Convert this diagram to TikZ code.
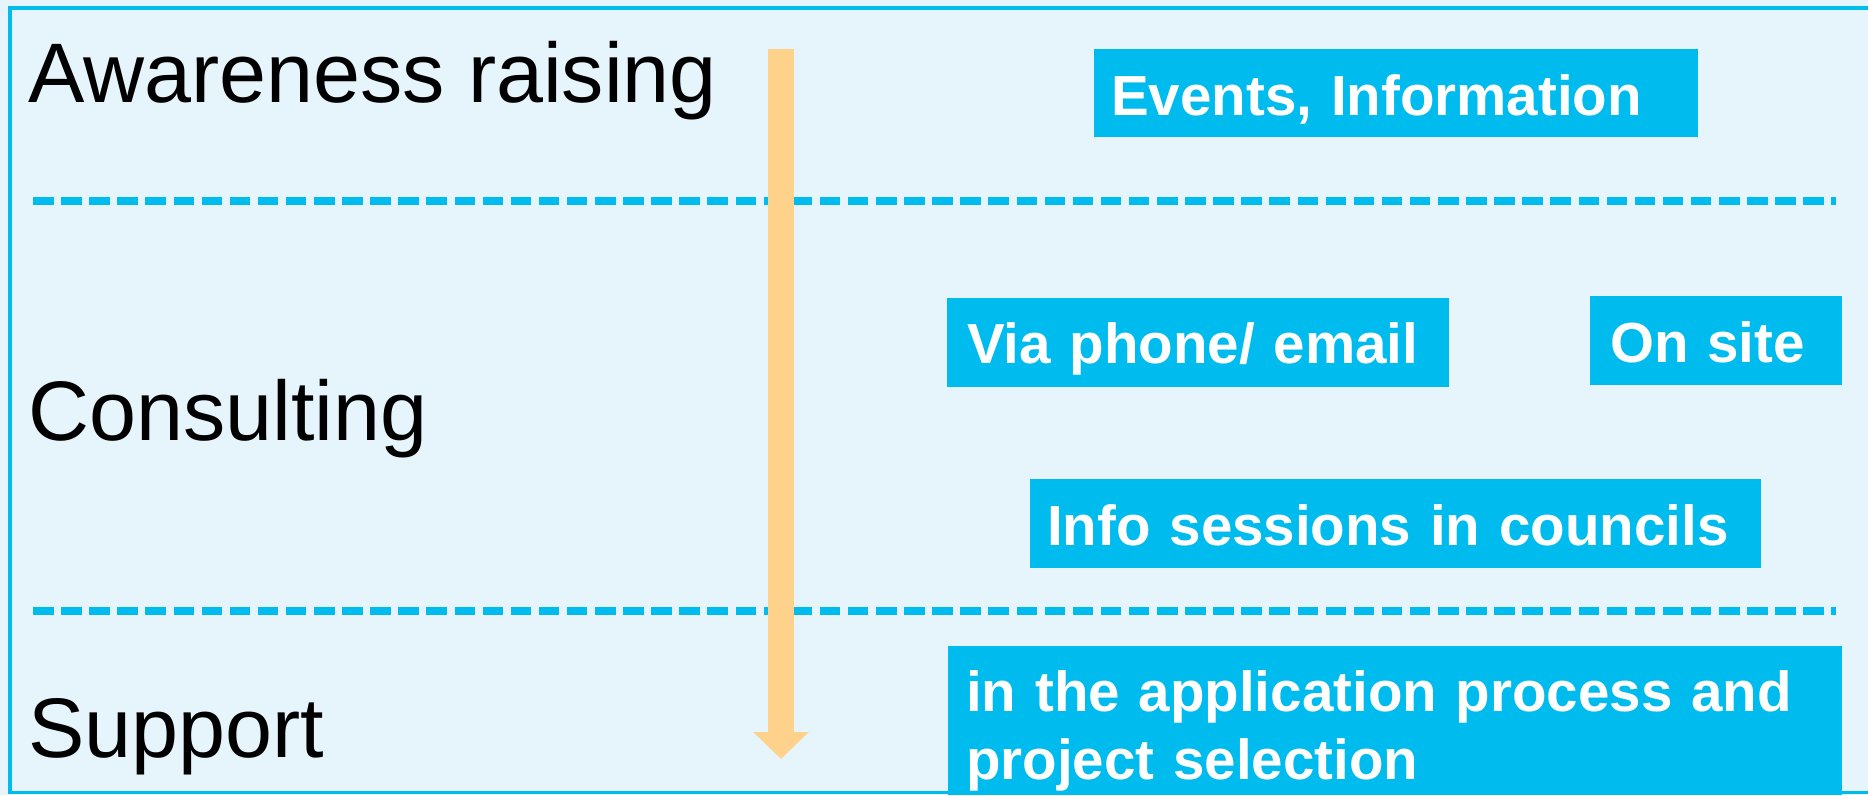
\documentclass[tikz,border=0pt]{standalone}
\usepackage{fontspec}
\setmainfont{Liberation Sans}
\usetikzlibrary{arrows.meta}
\definecolor{bgblue}{HTML}{E6F5FC}
\definecolor{cyanbox}{HTML}{00BBEE}
\definecolor{orangearrow}{HTML}{FFD28C}
\begin{document}
\begin{tikzpicture}[x=1pt,y=-1pt,
  stagelabel/.style={anchor=base west, inner sep=0pt, font=\fontsize{84.5}{100}\selectfont, text=black},
  cbox/.style={fill=cyanbox, draw=none, anchor=north west, inner ysep=0pt, align=left, text=white, font=\bfseries\fontsize{56.5}{68}\selectfont},
  divider/.style={draw=cyanbox, line width=7.5pt, dash pattern=on 20.5pt off 7.6pt},
  flow/.style={draw=orangearrow, line width=26pt, line cap=butt, -{Triangle[length=27pt,width=54pt]}},
  frame/.style={draw=cyanbox, line width=3.5pt}
]
\useasboundingbox (0,0) rectangle (1868,795);
\fill[bgblue] (0,0) rectangle (1868,795);
\draw[frame] (1875,8) -- (10,8) -- (10,792.5) -- (1875,792.5);

% dividers
\coordinate (d1s) at (33,201);
\coordinate (d1e) at (1836,201);
\coordinate (d2s) at (33,611);
\coordinate (d2e) at (1836,611);
\draw[divider] (d1s) -- (d1e);
\draw[divider] (d2s) -- (d2e);

% flow arrow
\coordinate (fs) at (781,49);
\coordinate (fe) at (781,759);
\draw[flow] (fs) -- (fe);

% stage labels
\node[stagelabel] (aw) at (28,102) {Awareness raising};
\node[stagelabel] (con) at (28,440) {Consulting};
\node[stagelabel] (sup) at (28,757) {Support};

% boxes
\node[cbox, minimum width=604pt, minimum height=88pt, inner xsep=17pt, text width=570pt, text height=57pt, text depth=12pt] (events) at (1094,49) {Events, Information};
\node[cbox, minimum width=502pt, minimum height=89pt, inner xsep=20pt, text width=462pt, text height=53pt, text depth=12pt] (phone) at (947,298) {Via phone/ email};
\node[cbox, minimum width=252pt, minimum height=89pt, inner xsep=20pt, text width=212pt, text height=55pt, text depth=12pt] (site) at (1590,296) {On site};
\node[cbox, minimum width=731pt, minimum height=89pt, inner xsep=17pt, text width=697pt, text height=55pt, text depth=12pt] (info) at (1030,479) {Info sessions in councils};
\node[cbox, minimum width=894pt, minimum height=149pt, inner xsep=18pt, text width=858pt, text height=50pt, text depth=69pt] (app) at (948,646) {in the application process and\\project selection};
\end{tikzpicture}
\end{document}
